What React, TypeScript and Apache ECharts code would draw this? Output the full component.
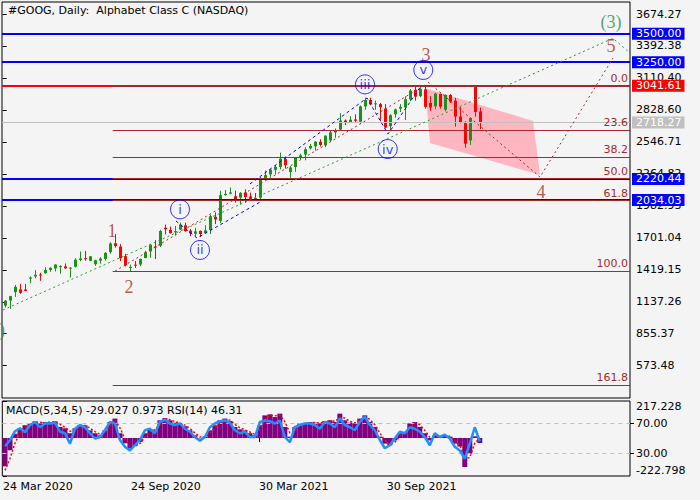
import React, { useEffect, useRef } from "react";
import * as echarts from "echarts";

const FONT = "DejaVu Sans";
const TITLE = "#GOOG, Daily:  Alphabet Class C (NASDAQ)";
const BAR_DAYS = 5; // one candle = 5 trading days
const X_MIN = -0.7;
const X_MAX = 627.3;
const Y_MIN = 288.7;
const Y_MAX = 3780.2;

const OPEN = [1103,1148,1222,1246,1245,1341,1361,1377,1389,1417,1430,1443,1449,1430,1446,1506,1521,1498,1468,1500,1515,1575,1653,1624,1539,1440,1464,1466,1523,1581,1625,1631,1790,1771,1749,1774,1811,1765,1737,1762,1743,1770,1886,1850,2078,2090,2068,2056,2101,2066,2050,2055,2220,2261,2300,2325,2395,2281,2325,2410,2435,2490,2508,2548,2516,2560,2630,2655,2735,2720,2745,2725,2860,2917,2880,2880,2840,2685,2790,2840,2850,2922,3005,2950,3010,2890,2860,2970,2830,2960,2910,2770,2712,2560,3030,2815];
const HIGH = [1152,1190,1284,1294,1294,1360,1416,1393,1442,1442,1468,1460,1475,1443,1522,1580,1586,1540,1508,1530,1575,1661,1733,1645,1560,1465,1497,1517,1587,1643,1681,1772,1818,1800,1805,1835,1834,1779,1790,1766,1812,1905,1926,2116,2123,2145,2117,2104,2129,2100,2095,2237,2295,2307,2342,2452,2418,2335,2412,2442,2500,2529,2553,2571,2604,2647,2665,2800,2745,2773,2790,2868,2937,2936,2910,2890,2880,2790,2840,2880,2950,3012,3037,3020,3037,2950,2980,2972,2965,2968,2935,2860,2730,2760,3042,2850];
const LOW = [1087,1074,1180,1207,1230,1300,1343,1322,1385,1402,1404,1384,1426,1350,1440,1495,1500,1495,1454,1473,1500,1560,1615,1496,1449,1407,1435,1450,1520,1525,1514,1620,1730,1739,1722,1768,1755,1716,1712,1707,1740,1734,1822,1830,2072,2085,2011,1996,2010,2030,2026,2040,2210,2240,2260,2304,2311,2230,2283,2390,2384,2480,2470,2507,2500,2545,2583,2650,2695,2715,2720,2705,2830,2870,2830,2728,2666,2640,2760,2810,2740,2905,2910,2940,2840,2820,2835,2840,2815,2890,2681,2710,2495,2520,2770,2660];
const CLOSE = [1146,1187,1269,1216,1233,1351,1375,1373,1418,1436,1465,1451,1432,1438,1508,1519,1515,1538,1504,1518,1568,1651,1629,1520,1459,1444,1458,1515,1573,1641,1621,1761,1777,1742,1760,1818,1760,1740,1758,1735,1767,1892,1864,2077,2088,2101,2036,2097,2061,2043,2045,2225,2254,2302,2326,2399,2341,2321,2406,2429,2482,2511,2549,2520,2602,2631,2652,2735,2720,2742,2733,2860,2917,2878,2887,2852,2673,2783,2833,2856,2923,3000,2946,3014,2856,2850,2973,2857,2961,2901,2771,2720,2531,2757,2810,2718.27];

const MACD = [-166,-72,25,57,75,86,98,86,94,94,98,65,57,28,57,75,75,45,28,16,45,94,114,28,-31,-62,-43,-23,28,51,45,104,117,104,90,86,69,45,16,-2,8,45,75,104,114,100,65,51,45,28,16,75,133,139,123,143,65,8,65,86,86,94,90,86,100,104,94,143,104,90,86,114,133,94,65,8,-33,-43,-14,28,35,86,94,65,28,-14,16,8,16,8,-33,-50,-170,-92,10,-29.027];
const SIGNAL = [-190,-120,-30,30,60,78,90,92,90,93,95,80,62,40,45,65,74,58,38,22,32,72,105,60,-5,-48,-50,-32,5,40,48,80,110,108,96,88,76,56,30,6,4,28,60,90,108,105,80,60,48,35,22,50,105,135,130,135,95,30,42,75,85,90,91,88,94,101,98,120,118,98,89,102,124,110,78,30,-15,-38,-25,10,30,62,90,78,45,5,4,10,12,10,-15,-42,-120,-115,-30,0.973];
const RSI = [39.7,47.7,59.7,63.7,58.4,67.7,72,65,70,70,71,59,57,43,63,68,65,57,50,52,61,72,70,48,39,34,41,48,61,63,57,72,75,70,68,70,63,59,52,47,52,65,70,73,74,71,61,57,59,52,52,72,74,73,70,74,52,45,65,68,70,70,68,63,72,70,65,77,68,65,61,72,79,68,61,48,37,41,50,59,57,65,63,59,52,41,57,52,55,50,39,34,23,43,65,46.31];

const PRICE_TICKS = [3674.27,3392.38,3110.40,2828.60,2546.71,2264.82,1982.93,1701.04,1419.15,1137.26,855.37,573.48];
const MACD_MAX = 217.228;
const MACD_MIN = -222.798;
const RSI_LEVELS = [70, 30];
const DATE_TICK_DAYS = [0, 128, 256, 384];
const DATE_TICK_LABELS = ["24 Mar 2020", "24 Sep 2020", "30 Mar 2021", "30 Sep 2021"];

const BLUE_LEVELS = [3500, 3250, 2220.44, 2034.03];
const RED_LEVEL = 3041.61;
const BID_LEVEL = 2718.27;
const FIB_START_DAY = 110;
const FIB_LABELS = ["0.0", "23.6", "38.2", "50.0", "61.8", "100.0", "161.8"];
const FIB_VALUES = [3037, 2652, 2414, 2222, 2029, 1407, 399];

const PINK_CHANNEL = [[422.3, 3022], [530.3, 2731], [537.3, 2255], [427.3, 2537]];
const GREEN_TREND = [[0.3, 1065], [610.3, 3460], [627.3, 3331]];
const FIB_DIAGONAL = [[112.3, 1407], [420.3, 3037]];
const RED_PROJECTION = [[425.3, 3075], [537.3, 2237], [610.3, 3286]];
const BLUE_PATH_A = [[173.3, 1849], [194.3, 1699], [259.3, 2026]];
const BLUE_PATH_B = [[247.3, 2176], [364.3, 2934], [385.3, 2616], [418.3, 3040]];

const WAVE_NUMS = [
  { name: "1", pos: [109.3, 1761] },
  { name: "2", pos: [126.3, 1267] },
  { name: "3", pos: [423.3, 3313] },
  { name: "4", pos: [538.3, 2105] },
  { name: "5", pos: [608.3, 3392] },
];
const WAVE_DEGREE = [
  { name: "(3)", pos: [608.3, 3604] },
  { name: "(2)", pos: [2.8, 888] },
];
const WAVE_MINOR = [
  { name: "i", pos: [177.3, 1952] },
  { name: "ii", pos: [197.3, 1594] },
  { name: "iii", pos: [362.3, 3054] },
  { name: "iv", pos: [385.0, 2484] },
  { name: "v", pos: [420.6, 3181] },
];

const UP = "#1a931a";
const DOWN = "#ff0000";
const FIB_COLOR = "#a52a2a";
const WAVE_RED = "#a8302c";
const WAVE_GREEN = "#2e8b57";

function buildOption(): any {
  const candles = OPEN.map((o, i) => [i * BAR_DAYS + 2, o, HIGH[i], LOW[i], CLOSE[i]]);
  const idx = (i: number) => i * BAR_DAYS + 2;
  const last = (a: number[]) => a[a.length - 1];
  const panelText = `MACD(5,34,5) ${last(MACD).toFixed(3)} ${last(SIGNAL).toFixed(3)} RSI(14) ${last(RSI).toFixed(2)}`;

  const boxLabel = (bg: string, v: number) => ({
    show: true,
    position: "end",
    distance: 2,
    formatter: v.toFixed(2),
    backgroundColor: bg,
    color: "#ffffff",
    fontFamily: FONT,
    fontSize: 11,
    lineHeight: 12,
    padding: [0, 3, 0, 4],
  });

  const hLines: any[] = [];
  hLines.push({ yAxis: BID_LEVEL, lineStyle: { color: "#c0c0c0", width: 1, type: "solid" }, label: boxLabel("#c0c0c0", BID_LEVEL) });
  BLUE_LEVELS.forEach((v) => {
    hLines.push({ yAxis: v, lineStyle: { color: "#0000ff", width: 2, type: "solid" }, label: boxLabel("#0000ff", v) });
  });
  hLines.push({ yAxis: RED_LEVEL, lineStyle: { color: "#ff0000", width: 2, type: "solid" }, label: boxLabel("#ff0000", RED_LEVEL) });
  FIB_VALUES.forEach((v, i) => {
    hLines.push([
      {
        coord: [FIB_START_DAY, v],
        lineStyle: { color: FIB_COLOR, width: 1, type: "solid" },
        label: {
          show: true,
          position: "insideEndTop",
          distance: 2,
          formatter: FIB_LABELS[i],
          color: FIB_COLOR,
          fontFamily: FONT,
          fontSize: 11,
        },
      },
      { coord: [X_MAX, v] },
    ]);
  });

  const trendLine = (data: number[][], color: string, type: any) => ({
    type: "line",
    xAxisIndex: 0,
    yAxisIndex: 0,
    data,
    showSymbol: false,
    silent: true,
    z: 6,
    lineStyle: { color, width: 1, type },
  });

  return {
    animation: false,
    backgroundColor: "#f4f4f4",
    textStyle: { fontFamily: FONT },
    title: [
      {
        text: TITLE,
        left: 8,
        top: 5,
        padding: 0,
        textStyle: { fontFamily: FONT, fontSize: 11, fontWeight: "normal", color: "#000" },
      },
      {
        text: panelText,
        left: 6,
        top: 405,
        padding: 0,
        textStyle: { fontFamily: FONT, fontSize: 11, fontWeight: "normal", color: "#000" },
      },
    ],
    grid: [
      { left: 2, top: 2, width: 628, height: 396, show: true, borderColor: "#000", borderWidth: 1, backgroundColor: "transparent" },
      { left: 2, top: 401, width: 628, height: 75, show: true, borderColor: "#000", borderWidth: 1, backgroundColor: "transparent" },
    ],
    xAxis: [
      { type: "value", gridIndex: 0, min: X_MIN, max: X_MAX, show: false },
      {
        type: "value",
        gridIndex: 1,
        min: X_MIN,
        max: X_MAX,
        axisLine: { show: false },
        splitLine: { show: false },
        axisTick: { show: true, customValues: DATE_TICK_DAYS, length: 4, lineStyle: { color: "#000" } },
        axisLabel: {
          show: true,
          customValues: DATE_TICK_DAYS,
          formatter: (v: number) => DATE_TICK_LABELS[DATE_TICK_DAYS.indexOf(Math.round(v))] || "",
          align: "left",
          margin: 5,
          color: "#000",
          fontFamily: FONT,
          fontSize: 11,
        },
      },
    ],
    yAxis: [
      {
        type: "value",
        gridIndex: 0,
        position: "right",
        min: Y_MIN,
        max: Y_MAX,
        axisLine: { show: false },
        splitLine: { show: false },
        axisTick: { show: true, customValues: PRICE_TICKS, length: 4, lineStyle: { color: "#000" } },
        axisLabel: {
          show: true,
          customValues: PRICE_TICKS,
          formatter: (v: number) => v.toFixed(2),
          margin: 6,
          color: "#000",
          fontFamily: FONT,
          fontSize: 11,
        },
      },
      {
        type: "value",
        gridIndex: 1,
        position: "right",
        min: MACD_MIN,
        max: MACD_MAX,
        axisLine: { show: false },
        splitLine: { show: false },
        axisTick: { show: true, customValues: [MACD_MAX, MACD_MIN], length: 4, lineStyle: { color: "#000" } },
        axisLabel: {
          show: true,
          customValues: [MACD_MAX],
          formatter: (v: number) => v.toFixed(3),
          verticalAlign: "top",
          margin: 6,
          color: "#000",
          fontFamily: FONT,
          fontSize: 11,
        },
      },
      {
        type: "value",
        gridIndex: 1,
        position: "right",
        min: MACD_MIN,
        max: MACD_MAX,
        axisLine: { show: false },
        splitLine: { show: false },
        axisTick: { show: false },
        axisLabel: {
          show: true,
          customValues: [MACD_MIN],
          formatter: (v: number) => v.toFixed(3),
          verticalAlign: "bottom",
          margin: 6,
          color: "#000",
          fontFamily: FONT,
          fontSize: 11,
        },
      },
      {
        type: "value",
        gridIndex: 1,
        position: "right",
        min: 0,
        max: 100,
        axisLine: { show: false },
        splitLine: { show: false },
        axisTick: { show: true, customValues: RSI_LEVELS, length: 4, lineStyle: { color: "#000" } },
        axisLabel: {
          show: true,
          customValues: RSI_LEVELS,
          formatter: (v: number) => v.toFixed(2),
          margin: 6,
          color: "#000",
          fontFamily: FONT,
          fontSize: 11,
        },
      },
    ],
    series: [
      {
        type: "custom",
        name: "channel",
        xAxisIndex: 0,
        yAxisIndex: 0,
        silent: true,
        z: 1,
        data: [[PINK_CHANNEL[0][0], PINK_CHANNEL[0][1]]],
        renderItem: (_p: any, api: any) => ({
          type: "polygon",
          shape: { points: PINK_CHANNEL.map((pt) => api.coord(pt)) },
          style: { fill: "#ffb6c1" },
        }),
      },
      {
        type: "line",
        name: "levels",
        xAxisIndex: 0,
        yAxisIndex: 0,
        data: [],
        silent: true,
        z: 2,
        markLine: { symbol: "none", silent: true, animation: false, data: hLines },
      },
      {
        type: "custom",
        name: "GOOG",
        xAxisIndex: 0,
        yAxisIndex: 0,
        z: 4,
        data: candles,
        encode: { x: 0, y: [1, 2, 3, 4] },
        renderItem: (_p: any, api: any) => {
          const d = api.value(0);
          const o = api.value(1);
          const h = api.value(2);
          const l = api.value(3);
          const c = api.value(4);
          const pO = api.coord([d, o]);
          const pC = api.coord([d, c]);
          const pH = api.coord([d, h]);
          const pL = api.coord([d, l]);
          const x = Math.round(pO[0]) + 0.5;
          const color = c >= o ? UP : DOWN;
          const top = Math.min(pO[1], pC[1]);
          const hgt = Math.max(1, Math.abs(pO[1] - pC[1]));
          return {
            type: "group",
            children: [
              { type: "line", shape: { x1: x, y1: pH[1], x2: x, y2: pL[1] }, style: { stroke: color, lineWidth: 1 } },
              { type: "rect", shape: { x: x - 1.5, y: top, width: 3, height: hgt }, style: { fill: color } },
            ],
          };
        },
      },
      trendLine(GREEN_TREND, "#2a9d2a", [2, 3]),
      trendLine(FIB_DIAGONAL, FIB_COLOR, [2, 3]),
      trendLine(RED_PROJECTION, FIB_COLOR, [2, 3]),
      trendLine(BLUE_PATH_A, "#0000ff", [3, 3]),
      trendLine(BLUE_PATH_B, "#0000ff", [3, 3]),
      {
        type: "scatter",
        xAxisIndex: 0,
        yAxisIndex: 0,
        silent: true,
        clip: false,
        z: 8,
        symbolSize: 1,
        itemStyle: { color: "rgba(0,0,0,0)" },
        data: WAVE_NUMS.map((w) => ({ name: w.name, value: w.pos })),
        label: {
          show: true,
          position: "inside",
          formatter: "{b}",
          color: WAVE_RED,
          fontFamily: "Liberation Serif",
          fontSize: 18,
        },
      },
      {
        type: "scatter",
        xAxisIndex: 0,
        yAxisIndex: 0,
        silent: true,
        clip: false,
        z: 8,
        symbolSize: 1,
        itemStyle: { color: "rgba(0,0,0,0)" },
        data: WAVE_DEGREE.map((w, i) => ({
          name: w.name,
          value: w.pos,
          label: i === 1 ? { position: "left", distance: 0 } : { position: "inside" },
        })),
        label: {
          show: true,
          formatter: "{b}",
          color: WAVE_GREEN,
          fontFamily: "Liberation Serif",
          fontSize: 18,
        },
      },
      {
        type: "scatter",
        xAxisIndex: 0,
        yAxisIndex: 0,
        silent: true,
        clip: false,
        z: 8,
        symbol: "circle",
        symbolSize: 19,
        itemStyle: { color: "rgba(0,0,0,0)", borderColor: "#0000ff", borderWidth: 1 },
        data: WAVE_MINOR.map((w) => ({ name: w.name, value: w.pos })),
        label: {
          show: true,
          position: "inside",
          formatter: "{b}",
          color: "#0000ff",
          fontFamily: FONT,
          fontSize: 13,
        },
      },
      {
        type: "bar",
        name: "MACD",
        xAxisIndex: 1,
        yAxisIndex: 1,
        barWidth: 5,
        silent: true,
        itemStyle: { color: "#800080" },
        data: MACD.map((v, i) => [idx(i), v]),
      },
      {
        type: "line",
        name: "Signal",
        xAxisIndex: 1,
        yAxisIndex: 1,
        silent: true,
        showSymbol: false,
        z: 5,
        lineStyle: { color: "#ff0000", width: 1.5, type: [2, 2] },
        data: SIGNAL.map((v, i) => [idx(i), v]),
      },
      {
        type: "line",
        name: "RSI",
        xAxisIndex: 1,
        yAxisIndex: 3,
        silent: true,
        showSymbol: false,
        z: 6,
        lineStyle: { color: "#1e90ff", width: 2.5 },
        data: RSI.map((v, i) => [idx(i), v]),
        markLine: {
          symbol: "none",
          silent: true,
          label: { show: false },
          lineStyle: { color: "#c0c0c0", width: 1, type: [4, 4] },
          data: RSI_LEVELS.map((v) => ({ yAxis: v })),
        },
      },
    ],
  };
}

export default function App() {
  const ref = useRef<HTMLDivElement>(null);
  useEffect(() => {
    if (!ref.current) return;
    const chart = echarts.init(ref.current, null, { renderer: "svg" });
    chart.setOption(buildOption());
    return () => chart.dispose();
  }, []);
  return (
    <div
      ref={ref}
      style={{ position: "fixed", left: 0, top: 0, width: 700, height: 500, background: "#f4f4f4" }}
    />
  );
}
